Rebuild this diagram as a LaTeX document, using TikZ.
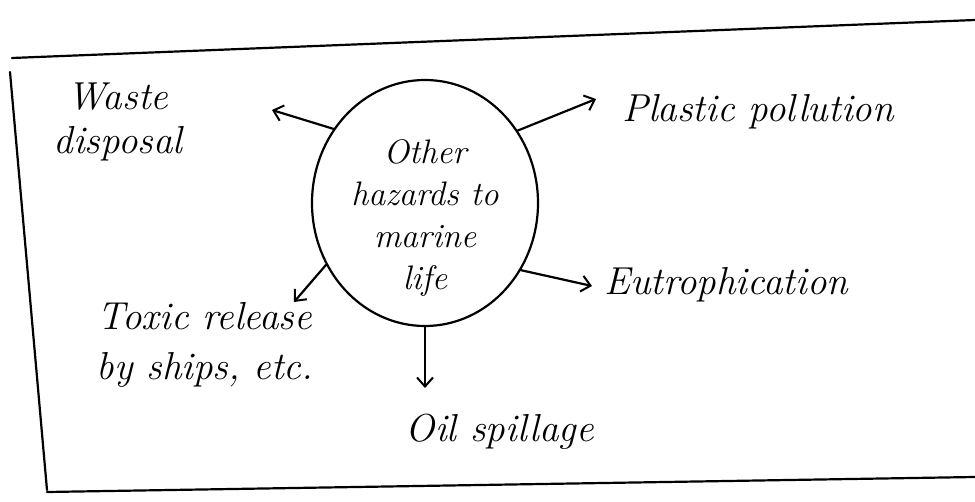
\documentclass[tikz,border=0pt]{standalone}
\usetikzlibrary{shapes.geometric,arrows.meta}
\begin{document}
\begin{tikzpicture}[x=1pt,y=-1pt,
  ink/.style={line width=2.2pt,line cap=round,line join=round},
  link/.style={ink,-{Straight Barb[length=9pt,width=16pt,line width=2pt]}},
  label/.style={font=\fontsize{39}{48}\selectfont\itshape,inner sep=0pt,align=center},
  hub/.style={draw,ink,ellipse,minimum width=226pt,minimum height=246pt,inner sep=0pt}]
  \useasboundingbox (0,0) rectangle (975,502);

  % page frame
  \draw[ink] (12,58) -- (975,20);
  \draw[ink] (10,72) -- (47,490);
  \draw[ink] (47,492) -- (975,477);

  % central topic
  \node[hub] (c) at (425,203) {};
  \node[font=\fontsize{34}{42}\selectfont\itshape,inner sep=0pt,align=center] (t) at (425,218)
    {Other\\hazards to\\marine\\life};

  % surrounding hazards
  \node[label] (wd) at (118,122) {Waste\\[-4pt]disposal};
  \node[label,anchor=west] (pp) at (622,112) {Plastic pollution};
  \node[label,anchor=west] (eu) at (604,285) {Eutrophication};
  \node[label] (tr) at (205,345) {Toxic release\\[2pt]by ships, etc.};
  \node[label] (os) at (500,432) {Oil spillage};

  % arrow tips near each label
  \coordinate (wdtip) at (272,110);
  \coordinate (pptip) at (596,99);
  \coordinate (eutip) at (592,286);
  \coordinate (trtip) at (294,302);
  \coordinate (ostip) at (425,388);

  \draw[link] (c.141) -- (wdtip);
  \draw[link] (c.38) -- (pptip);
  \draw[link] (c.212) -- (trtip);
  \draw[link] (c.325) -- (eutip);
  \draw[link] (c.south) -- (ostip);
\end{tikzpicture}
\end{document}
